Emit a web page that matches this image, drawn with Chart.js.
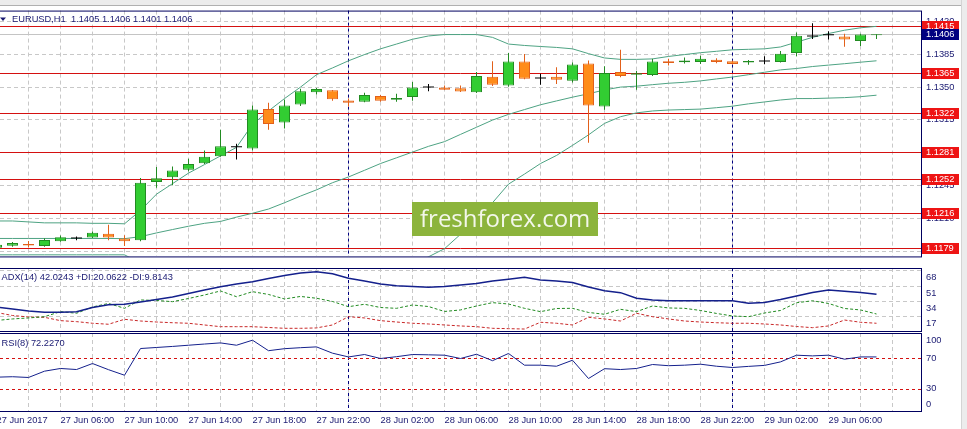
<!DOCTYPE html>
<html>
<head>
<meta charset="utf-8">
<script src="https://cdn.jsdelivr.net/npm/chart.js@4.4.1/dist/chart.umd.min.js"></script>
<style>
  body { margin: 0; background: #fff; width: 967px; height: 429px; overflow: hidden; position: relative; }
  .pane { position: absolute; left: 0; width: 967px; }
  .pane canvas { display: block; }
  #topbar { position: absolute; left: 0; top: 0; width: 967px; height: 5px; background: #ececec; border-bottom: 1px solid #b0b0b0; z-index: 2; }
  #sidebar { position: absolute; left: 961px; top: 0; width: 6px; height: 429px; background: #ececec; border-left: 1px solid #d4d4d4; z-index: 2; }
</style>
</head>
<body>
<div id="topbar"></div>
<div id="sidebar"></div>
<div class="pane" style="top:0;height:267px"><canvas id="mainchart" width="967" height="267"></canvas></div>
<div class="pane" style="top:267px;height:66px"><canvas id="adxchart" width="967" height="66"></canvas></div>
<div class="pane" style="top:332px;height:97px"><canvas id="rsichart" width="967" height="97"></canvas></div>

<script>
// EURUSD H1 candles, bar index -1 = 27 Jun 02:00
const FIRST_BAR = -1;

const open = [1.11791, 1.11811, 1.11831, 1.11808, 1.11859, 1.11889, 1.11899, 1.1194, 1.11889, 1.11869,
  1.12489, 1.1254, 1.12621, 1.12689, 1.12764, 1.12858, 1.12845, 1.13265, 1.13123, 1.13313,
  1.13445, 1.13466, 1.13357, 1.13344, 1.13405, 1.13364, 1.13394, 1.13496, 1.13496, 1.13486,
  1.13445, 1.13608, 1.13516, 1.13771, 1.13591, 1.13608, 1.13567, 1.1375, 1.13293, 1.13659,
  1.13631, 1.13628, 1.13774, 1.13764, 1.13767, 1.13791, 1.13774, 1.1376, 1.13771, 1.13767,
  1.13862, 1.14038, 1.14051, 1.14038, 1.1399, 1.1405];
const high = [1.11831, 1.11852, 1.11862, 1.11892, 1.1192, 1.11909, 1.11963, 1.12035, 1.11923, 1.12533,
  1.12648, 1.12655, 1.12736, 1.12825, 1.13045, 1.12896, 1.13303, 1.13333, 1.13367, 1.13482,
  1.13489, 1.13469, 1.13377, 1.13438, 1.13415, 1.13428, 1.13553, 1.13533, 1.13516, 1.13516,
  1.13659, 1.13774, 1.13862, 1.13852, 1.13641, 1.1371, 1.1376, 1.13781, 1.1372, 1.13896,
  1.13669, 1.13801, 1.13801, 1.13814, 1.13832, 1.13807, 1.13781, 1.13787, 1.13828, 1.13883,
  1.14079, 1.14177, 1.14092, 1.14066, 1.14066, 1.1406];
const low = [1.1178, 1.11801, 1.11794, 1.11801, 1.11855, 1.11869, 1.11892, 1.11869, 1.11808, 1.11859,
  1.12428, 1.12455, 1.12601, 1.12682, 1.12757, 1.12729, 1.12825, 1.13045, 1.13059, 1.13299,
  1.13421, 1.13354, 1.13293, 1.13339, 1.13344, 1.13344, 1.13354, 1.13455, 1.13469, 1.13448,
  1.13435, 1.13512, 1.13502, 1.13583, 1.13523, 1.13533, 1.13547, 1.12906, 1.13258, 1.13604,
  1.13472, 1.13618, 1.1373, 1.1375, 1.13746, 1.13753, 1.1374, 1.13736, 1.13743, 1.1376,
  1.13828, 1.14011, 1.14005, 1.13929, 1.13936, 1.1401];
const close = [1.11821, 1.11841, 1.11814, 1.11872, 1.11902, 1.11889, 1.1195, 1.11899, 1.11859, 1.12482,
  1.1253, 1.12611, 1.12682, 1.12757, 1.12869, 1.12858, 1.13262, 1.13106, 1.13303, 1.13455,
  1.13479, 1.1337, 1.13333, 1.13415, 1.13354, 1.13384, 1.13496, 1.13496, 1.13472, 1.13453,
  1.13618, 1.13523, 1.13771, 1.13588, 1.13591, 1.13577, 1.1374, 1.13303, 1.13649, 1.13618,
  1.13647, 1.13771, 1.13756, 1.13781, 1.13801, 1.13767, 1.13746, 1.13777, 1.13771, 1.13855,
  1.14045, 1.14038, 1.14051, 1.14005, 1.14058, 1.1406];

// Bollinger bands
const bbUpper = [1.12075, 1.12075, 1.12065, 1.12055, 1.12055, 1.12055, 1.1205, 1.1205, 1.12045, 1.12187,
  1.1236, 1.12472, 1.12584, 1.12675, 1.12767, 1.12858, 1.13102, 1.13245, 1.13377, 1.13499,
  1.13631, 1.13703, 1.13779, 1.13845, 1.13906, 1.13957, 1.14008, 1.14043, 1.14058, 1.14058,
  1.14058, 1.14028, 1.13957, 1.13942, 1.13931, 1.13921, 1.13906, 1.13855, 1.13809, 1.13794,
  1.13794, 1.13799, 1.13825, 1.13845, 1.13865, 1.1388, 1.13896, 1.13901, 1.13906, 1.13926,
  1.13977, 1.14028, 1.14069, 1.14104, 1.1413, 1.14145];
const bbMiddle = [1.11889, 1.11889, 1.11889, 1.11889, 1.11889, 1.11889, 1.11889, 1.11889, 1.11887, 1.11908,
  1.11948, 1.11984, 1.12019, 1.1205, 1.1207, 1.12116, 1.12157, 1.12202, 1.12269, 1.1234,
  1.12406, 1.12482, 1.12543, 1.12614, 1.12686, 1.12747, 1.12808, 1.12869, 1.12919, 1.12996,
  1.13072, 1.13148, 1.13209, 1.1326, 1.13311, 1.13352, 1.13392, 1.13428, 1.13469, 1.13499,
  1.13509, 1.13525, 1.1354, 1.1355, 1.13565, 1.13586, 1.13606, 1.13631, 1.13657, 1.13682,
  1.13697, 1.13718, 1.13733, 1.13748, 1.13764, 1.13779];
const bbLower = [1.11715, 1.11715, 1.11715, 1.11715, 1.11715, 1.11715, 1.11715, 1.11715, 1.11715, 1.11628,
  1.11536, 1.11496, 1.11455, 1.11424, 1.11374, 1.11374, 1.11211, 1.1116, 1.1116, 1.1118,
  1.1118, 1.11262, 1.11307, 1.11384, 1.11465, 1.11536, 1.11608, 1.11694, 1.1178, 1.11933,
  1.12091, 1.12269, 1.12467, 1.12574, 1.12686, 1.12772, 1.12879, 1.12991, 1.13113, 1.13184,
  1.13225, 1.13245, 1.13255, 1.1326, 1.13265, 1.1328, 1.13296, 1.13321, 1.13341, 1.13362,
  1.13377, 1.13377, 1.13382, 1.13387, 1.13397, 1.13413];

// ADX(14)
const adx = [27.9, 25.7, 23.4, 22, 22, 22.7, 27.3, 30.4, 30.9, 33.4,
  36.2, 39, 42.9, 46.8, 50.4, 53.4, 56, 59.6, 62.9, 65.7,
  67.1, 64.9, 59.8, 56.8, 53.4, 51.6, 50.7, 49.8, 50.7, 52.3,
  54, 56.8, 58.7, 60.9, 57.9, 56.8, 55.1, 50.1, 46, 43.8,
  37.6, 35.7, 34.9, 34.9, 34.9, 34.9, 34.9, 32, 32.9, 36.2,
  40.1, 44, 46.8, 45.3, 44, 42];
const plusDi = [12.9, 14.6, 15.7, 17.1, 22.7, 20.9, 27.9, 31.8, 26.4, 35.7,
  35.1, 33.8, 37.3, 41.2, 45.7, 39.3, 44.9, 41.8, 36.8, 39.6,
  37.6, 34, 28.2, 30.9, 27.3, 26.4, 30.1, 28.4, 22.9, 24.6,
  29, 32.7, 31.2, 26.4, 22.7, 26.2, 26.4, 21.8, 19.8, 25.3,
  22.7, 29, 26.8, 26.4, 24, 20.7, 17.9, 17.1, 21.2, 24,
  32.6, 34.8, 31.8, 26.2, 24.6, 20.1];
const minusDi = [21.8, 18.4, 16.8, 16.4, 12.7, 11.6, 9.8, 8.7, 14.2, 12.3,
  11.2, 10.4, 9.8, 7.9, 6, 6, 6, 5.1, 4.2, 4.2,
  4.6, 7.9, 17.1, 15.7, 12.7, 11.2, 9.8, 9, 7.9, 6.8,
  6, 4.2, 3.8, 3.4, 10.9, 9.8, 7.9, 16.4, 14.6, 12.3,
  20.9, 17.1, 14.6, 12.3, 11.2, 10.4, 9.8, 9.8, 9, 7.9,
  6.2, 4.9, 6.8, 13.4, 10.9, 9.8];

// RSI(8)
const rsi = [45.1, 45.7, 44.7, 53.1, 56.7, 55.3, 63.3, 55.1, 47.7, 83.3,
  84.7, 86.1, 87.7, 89.3, 90.8, 87.7, 94.4, 80.4, 83.1, 84.4,
  85.5, 77.1, 72.1, 75.3, 70, 72.4, 75.3, 74.9, 74.4, 70,
  75.7, 67.1, 76.7, 61.1, 61.1, 59.7, 67.7, 43.3, 56.4, 55.3,
  56.7, 62, 60.4, 61.1, 62.4, 59.7, 58, 59.5, 60.8, 65.5,
  74.4, 73.5, 74.4, 69.1, 72.1, 72.1];

const levels = [1.1415, 1.1365, 1.1322, 1.1281, 1.1252, 1.1216, 1.1179];
const priceTicks = [1.1175, 1.121, 1.1245, 1.128, 1.1315, 1.135, 1.1385, 1.142];
const adxTicks = [68, 51, 34, 17];
const rsiTicks = [100, 70, 30, 0];
const rsiLevels = [70, 30];
const timeLabels = ['27 Jun 2017', '27 Jun 06:00', '27 Jun 10:00', '27 Jun 14:00', '27 Jun 18:00',
  '27 Jun 22:00', '28 Jun 02:00', '28 Jun 06:00', '28 Jun 10:00', '28 Jun 14:00', '28 Jun 18:00',
  '28 Jun 22:00', '29 Jun 02:00', '29 Jun 06:00'];
const daySeparators = [21, 45]; // 28 Jun 00:00, 29 Jun 00:00

const NAVY = '#1a1a72';
const LEVEL_RED = '#d41010';
const GRID = '#c8c8c8';
const BB = '#4ea383';
const FONT_FAMILY = '"Liberation Sans", Arial, sans-serif';
const FONT = { family: FONT_FAMILY, size: 9.3 };
const FONT_CSS = '9.3px ' + FONT_FAMILY;

const X_MIN = -0.78125;
const X_MAX = 56.78125;
const P_MIN = 1.11698;
const P_MAX = 1.14313;

const bars = open.map((_, k) => k + FIRST_BAR);
const last = close.length - 1;

const gridBars = [];
for (let b = FIRST_BAR; b <= 55; b += 2) gridBars.push(b);

function isDoji(k) { return open[k] === close[k]; }
function isUp(k) { return close[k] > open[k]; }

function bodyFill(k) {
  if (k === undefined) return '#32cd32';
  if (isDoji(k)) return '#000';
  return isUp(k) ? '#32cd32' : '#ff8c1a';
}
function edgeColor(k) {
  if (k === undefined) return '#228b22';
  if (isDoji(k)) return '#000';
  return isUp(k) ? '#228b22' : '#e2601a';
}

function xAxis(showLabels) {
  return {
    type: 'linear', min: X_MIN, max: X_MAX, offset: false,
    grid: { color: GRID, drawTicks: false, offset: false },
    border: { display: false, dash: [4, 3] },
    ticks: {
      display: showLabels, autoSkip: false, maxRotation: 0, minRotation: 0,
      align: 'start', padding: 4, color: NAVY, font: FONT,
      callback: (v) => {
        const k = (v - FIRST_BAR) / 4;
        return Number.isInteger(k) && timeLabels[k] ? timeLabels[k] : '';
      }
    },
    afterBuildTicks: (s) => { s.ticks = gridBars.map((v) => ({ value: v })); },
    afterFit: (s) => {
      s.height = showLabels ? 18 : 0;
      s.paddingLeft = 0;
      s.paddingRight = 0;
    }
  };
}

function hline(ctx, a, py) {
  const yy = Math.round(py) + 0.5;
  ctx.beginPath();
  ctx.moveTo(a.left, yy);
  ctx.lineTo(a.right, yy);
  ctx.stroke();
}

function drawSeparators(chart) {
  const { ctx, chartArea: a, scales: { x } } = chart;
  ctx.save();
  ctx.strokeStyle = '#000080';
  ctx.lineWidth = 1;
  ctx.setLineDash([3, 3]);
  daySeparators.forEach((b) => {
    const xx = Math.floor(x.getPixelForValue(b)) + 0.5;
    ctx.beginPath();
    ctx.moveTo(xx, a.top);
    ctx.lineTo(xx, a.bottom);
    ctx.stroke();
  });
  ctx.restore();
}

function drawFrame(chart) {
  const { ctx, chartArea: a } = chart;
  ctx.save();
  ctx.strokeStyle = '#000060';
  ctx.lineWidth = 1;
  ctx.setLineDash([]);
  ctx.strokeRect(a.left - 0.5, a.top + 0.5, a.right - a.left + 1, a.bottom - a.top);
  ctx.restore();
}

function panelTitle(chart, text, dy) {
  const { ctx, chartArea: a } = chart;
  ctx.save();
  ctx.font = FONT_CSS;
  ctx.fillStyle = NAVY;
  ctx.textBaseline = 'middle';
  ctx.textAlign = 'left';
  ctx.fillText(text, a.left + 1.5, a.top + dy);
  ctx.restore();
}

function sideLabels(chart, values, shift) {
  const { ctx, chartArea: a, scales: { y } } = chart;
  ctx.save();
  ctx.font = FONT_CSS;
  ctx.fillStyle = NAVY;
  ctx.textBaseline = 'middle';
  ctx.textAlign = 'left';
  values.forEach((v) => {
    let py = y.getPixelForValue(v) + shift;
    py = Math.min(Math.max(py, a.top + 7.5), a.bottom - 6.5);
    ctx.fillText(String(v), a.right + 5, py);
  });
  ctx.restore();
}

function priceTag(ctx, a, py, text, fill) {
  const yy = Math.round(py);
  ctx.fillStyle = fill;
  ctx.fillRect(a.right + 1, yy - 5, 37, 11);
  ctx.fillStyle = '#fff';
  ctx.fillText(text, a.right + 5, yy + 0.5);
}

// main window decorations
const mainDecor = {
  id: 'mainDecor',
  beforeDatasetsDraw(chart) {
    const { ctx, chartArea: a, scales: { y } } = chart;
    drawSeparators(chart);
    ctx.save();
    ctx.lineWidth = 1;
    ctx.strokeStyle = '#c4c4c4';
    hline(ctx, a, y.getPixelForValue(close[last]));
    ctx.strokeStyle = LEVEL_RED;
    levels.forEach((l) => hline(ctx, a, y.getPixelForValue(l)));
    ctx.restore();
  },
  afterDraw(chart) {
    const { ctx, chartArea: a, scales: { y } } = chart;
    drawFrame(chart);
    ctx.save();
    ctx.font = FONT_CSS;
    ctx.textBaseline = 'middle';
    ctx.textAlign = 'left';
    levels.forEach((l) => priceTag(ctx, a, y.getPixelForValue(l), l.toFixed(4), '#ee1414'));
    priceTag(ctx, a, y.getPixelForValue(close[last]), close[last].toFixed(4), '#000080');

    // symbol caption
    ctx.fillStyle = NAVY;
    ctx.beginPath();
    ctx.moveTo(0, a.top + 7);
    ctx.lineTo(6, a.top + 7);
    ctx.lineTo(3, a.top + 10.5);
    ctx.closePath();
    ctx.fill();
    const ohlc = [open[last], high[last], low[last], close[last]].map((v) => v.toFixed(4)).join(' ');
    ctx.fillText('EURUSD,H1  ' + ohlc, 12, a.top + 8.5);

    // watermark
    ctx.fillStyle = '#8cb43c';
    ctx.fillRect(412, 202, 186, 34);
    ctx.fillStyle = '#f3f7ea';
    ctx.font = '24px "Open Sans", sans-serif';
    ctx.textBaseline = 'alphabetic';
    ctx.fillText('freshforex.com', 420, 227);
    ctx.restore();
  }
};

const adxDecor = {
  id: 'adxDecor',
  beforeDatasetsDraw(chart) { drawSeparators(chart); },
  afterDraw(chart) {
    drawFrame(chart);
    panelTitle(chart, 'ADX(14) 42.0243 +DI:20.0622 -DI:9.8143', 9);
    sideLabels(chart, adxTicks, 7);
  }
};

const rsiDecor = {
  id: 'rsiDecor',
  beforeDatasetsDraw(chart) {
    const { ctx, chartArea: a, scales: { y } } = chart;
    drawSeparators(chart);
    ctx.save();
    ctx.strokeStyle = LEVEL_RED;
    ctx.lineWidth = 1;
    ctx.setLineDash([3, 3]);
    rsiLevels.forEach((l) => hline(ctx, a, y.getPixelForValue(l)));
    ctx.restore();
  },
  afterDraw(chart) {
    drawFrame(chart);
    panelTitle(chart, 'RSI(8) 72.2270', 10);
    sideLabels(chart, rsiTicks, 0);
  }
};

const common = {
  responsive: false,
  animation: false,
  devicePixelRatio: 1,
  events: [],
  plugins: { legend: { display: false }, tooltip: { enabled: false } }
};

function series(values) {
  return bars.map((b, k) => ({ x: b, y: values[k] }));
}

function lineSet(values, color, width, dash, order) {
  return {
    type: 'line', data: series(values), borderColor: color, borderWidth: width,
    borderDash: dash, pointRadius: 0, tension: 0, order: order
  };
}

// price window
new Chart(document.getElementById('mainchart'), {
  type: 'bar',
  data: {
    datasets: [
      {
        type: 'bar',
        data: bars.map((b, k) => ({ x: b, y: [open[k], close[k]] })),
        barThickness: 11, minBarLength: 1, grouped: false, borderSkipped: false, inflateAmount: 0,
        backgroundColor: (c) => bodyFill(c.dataIndex),
        borderColor: (c) => edgeColor(c.dataIndex),
        borderWidth: (c) => (c.dataIndex !== undefined && isDoji(c.dataIndex) ? 0 : 1),
        order: 0
      },
      {
        type: 'bar',
        data: bars.map((b, k) => ({ x: b, y: [low[k], high[k]] })),
        barThickness: 1, grouped: false, borderWidth: 0, inflateAmount: 0,
        backgroundColor: (c) => edgeColor(c.dataIndex),
        order: 1
      },
      lineSet(bbUpper, BB, 1, [], 2),
      lineSet(bbMiddle, BB, 1, [], 2),
      lineSet(bbLower, BB, 1, [], 2)
    ]
  },
  options: {
    ...common,
    layout: { padding: { top: 9, bottom: 1, left: 0, right: 0 } },
    scales: {
      x: xAxis(false),
      y: {
        position: 'right', min: P_MIN, max: P_MAX,
        grid: { color: GRID, drawTicks: false },
        border: { display: false, dash: [4, 3] },
        ticks: { color: NAVY, font: FONT, padding: 5, callback: (v) => Number(v).toFixed(4) },
        afterBuildTicks: (s) => { s.ticks = priceTicks.map((v) => ({ value: v })); },
        afterFit: (s) => { s.width = 46; }
      }
    }
  },
  plugins: [mainDecor]
});

// ADX window
new Chart(document.getElementById('adxchart'), {
  type: 'line',
  data: {
    datasets: [
      lineSet(adx, '#14208c', 1.5, [], 0),
      lineSet(plusDi, '#228b22', 1, [3, 2], 1),
      lineSet(minusDi, '#c82828', 1, [3, 2], 2)
    ]
  },
  options: {
    ...common,
    layout: { padding: { top: 1, bottom: 2, left: 0, right: 0 } },
    scales: {
      x: xAxis(false),
      y: {
        position: 'right', min: 1.2, max: 71.2,
        grid: { color: GRID, drawTicks: false },
        border: { display: false, dash: [4, 3] },
        ticks: { display: false },
        afterBuildTicks: (s) => { s.ticks = adxTicks.map((v) => ({ value: v })); },
        afterFit: (s) => { s.width = 46; }
      }
    }
  },
  plugins: [adxDecor]
});

// RSI window
new Chart(document.getElementById('rsichart'), {
  type: 'line',
  data: {
    datasets: [lineSet(rsi, '#14208c', 1, [], 0)]
  },
  options: {
    ...common,
    layout: { padding: { top: 1, bottom: 0, left: 0, right: 0 } },
    scales: {
      x: xAxis(true),
      y: {
        position: 'right', min: 0, max: 104,
        grid: { display: false },
        border: { display: false },
        ticks: { display: false },
        afterFit: (s) => { s.width = 46; }
      }
    }
  },
  plugins: [rsiDecor]
});
</script>
</body>
</html>
